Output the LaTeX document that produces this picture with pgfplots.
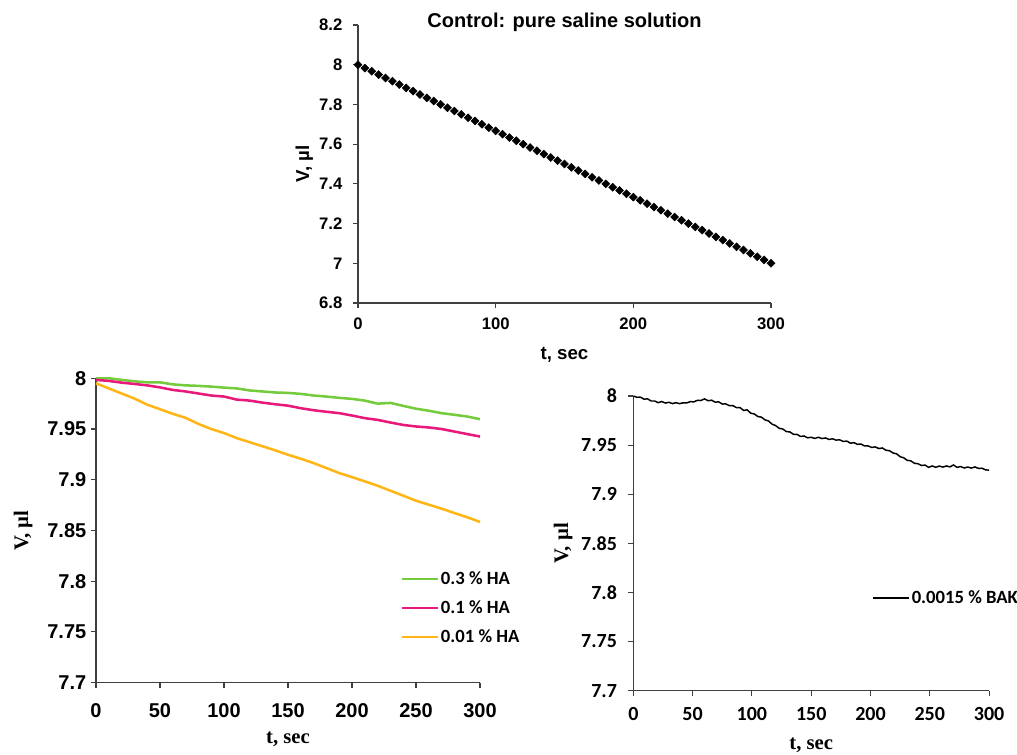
\documentclass[border=0pt]{standalone}
\usepackage{fontspec}
\setmainfont{Liberation Sans}
\newfontfamily\arialf{Liberation Sans}
\newfontfamily\calf{Carlito}
\newfontfamily\timesf{Liberation Serif}
\usepackage{pgfplots}
\pgfplotsset{compat=1.18}
\definecolor{hagreen}{HTML}{74CC3C}
\definecolor{hapink}{HTML}{E8197A}
\definecolor{haorange}{HTML}{FFB515}
\definecolor{axgray}{HTML}{404040}

\pgfplotsset{
  excel/.style={
    scale only axis, anchor=south west,
    axis x line*=bottom, axis y line*=left,
    axis line style={axgray,line width=0.8pt},
    tick style={axgray,line width=0.8pt},
    tick align=outside, major tick length=3.75pt,
    xmin=0, xmax=300, clip=false,
    /pgf/number format/assume math mode=true,
    legend cell align=left,
    legend style={draw=none,fill=none,inner sep=0pt,row sep=7.5pt,
      nodes={inner sep=1.5pt}},
    legend image code/.code={\draw[##1] (0pt,0pt) -- (27pt,0pt);},
  },
}

\begin{document}
\begin{tikzpicture}
\useasboundingbox (0pt,0pt) rectangle (762.75pt,-566.25pt);

% top: control
\begin{axis}[excel,
  at={(268.5pt,-227.25pt)}, width=309.75pt, height=208.5pt,
  ymin=6.8, ymax=8.2,
  ytick={6.8,7,7.2,7.4,7.6,7.8,8,8.2},
  xtick={0,100,200,300},
  ticklabel style={font=\arialf\bfseries\fontsize{12.5}{14}\selectfont},
  yticklabel style={xshift=-4.5pt},
  xticklabel style={yshift=-3.5pt},
  xlabel={t, sec}, ylabel={V, µl},
  label style={font=\arialf\bfseries\fontsize{14}{16}\selectfont},
  xlabel style={at={(axis description cs:0.5,-0.187)},anchor=center},
  ylabel style={at={(axis description cs:-0.13,0.5)},anchor=center},
  title={Control: pure saline solution},
  title style={at={(axis description cs:0.5,0.982)},anchor=center,
    font=\arialf\bfseries\fontsize{15}{17}\selectfont},
]
\addplot[only marks, mark=square*, mark size=2.1pt, black,
  mark options={rotate=45}] coordinates {
  (0,8.000)(5,7.983)(10,7.967)(15,7.950)(20,7.933)(25,7.917)(30,7.900)
  (35,7.883)(40,7.867)(45,7.850)(50,7.833)(55,7.817)(60,7.800)(65,7.783)
  (70,7.767)(75,7.750)(80,7.733)(85,7.717)(90,7.700)(95,7.683)(100,7.667)
  (105,7.650)(110,7.633)(115,7.617)(120,7.600)(125,7.583)(130,7.567)
  (135,7.550)(140,7.533)(145,7.517)(150,7.500)(155,7.483)(160,7.467)
  (165,7.450)(170,7.433)(175,7.417)(180,7.400)(185,7.383)(190,7.367)
  (195,7.350)(200,7.333)(205,7.317)(210,7.300)(215,7.283)(220,7.267)
  (225,7.250)(230,7.233)(235,7.217)(240,7.200)(245,7.183)(250,7.167)
  (255,7.150)(260,7.133)(265,7.117)(270,7.100)(275,7.083)(280,7.067)
  (285,7.050)(290,7.033)(295,7.017)(300,7.000)};
\end{axis}

% bottom left: HA
\begin{axis}[excel,
  at={(72pt,-512pt)}, width=288pt, height=228.3pt,
  ymin=7.7, ymax=8,
  ytick={7.7,7.75,7.8,7.85,7.9,7.95,8},
  xtick={0,50,100,150,200,250,300},
  ticklabel style={font=\arialf\bfseries\fontsize{15}{17}\selectfont},
  xticklabel style={yshift=-8pt},
  xlabel={t, sec}, ylabel={V, µl},
  label style={font=\timesf\bfseries\fontsize{15.5}{17}\selectfont},
  xlabel style={at={(axis description cs:0.5,-0.185)},anchor=center},
  ylabel style={at={(axis description cs:-0.19,0.5)},anchor=center},
  legend style={at={(axis description cs:0.792,0.245)},anchor=west,
    font=\calf\bfseries\fontsize{14}{16}\selectfont},
]
\addplot[hagreen, line width=1.9pt] coordinates {
  (0,8.0000)(10,8.0000)(20,7.9984)(30,7.9970)(40,7.9960)(50,7.9960)
  (60,7.9940)(70,7.9930)(80,7.9925)(90,7.9918)(100,7.9908)(110,7.9900)
  (120,7.9880)(130,7.9870)(140,7.9860)(150,7.9856)(160,7.9846)(170,7.9830)
  (180,7.9820)(190,7.9807)(200,7.9797)(210,7.9780)(220,7.9750)(230,7.9757)
  (240,7.9728)(250,7.9700)(260,7.9680)(270,7.9656)(280,7.9640)(290,7.9623)
  (300,7.9597)};
\addlegendentry{0.3 \% HA}
\addplot[hapink, line width=1.9pt] coordinates {
  (0,7.9984)(10,7.9974)(20,7.9957)(30,7.9944)(40,7.9930)(50,7.9910)
  (60,7.9885)(70,7.9870)(80,7.9850)(90,7.9830)(100,7.9820)(110,7.9790)
  (120,7.9780)(130,7.9760)(140,7.9744)(150,7.9730)(160,7.9705)(170,7.9685)
  (180,7.9670)(190,7.9656)(200,7.9633)(210,7.9607)(220,7.9590)(230,7.9564)
  (240,7.9540)(250,7.9525)(260,7.9515)(270,7.9500)(280,7.9475)(290,7.9450)
  (300,7.9426)};
\addlegendentry{0.1 \% HA}
\addplot[haorange, line width=1.9pt] coordinates {
  (0,7.9950)(10,7.9900)(20,7.9850)(30,7.9800)(40,7.9740)(50,7.9695)
  (60,7.9650)(70,7.9610)(80,7.9550)(90,7.9500)(100,7.9460)(110,7.9410)
  (120,7.9370)(130,7.9330)(140,7.9290)(150,7.9246)(160,7.9207)(170,7.9164)
  (180,7.9115)(190,7.9066)(200,7.9026)(210,7.8984)(220,7.8941)(230,7.8892)
  (240,7.8843)(250,7.8793)(260,7.8754)(270,7.8715)(280,7.8672)(290,7.8630)
  (300,7.8584)};
\addlegendentry{0.01 \% HA}
\end{axis}

% bottom right: BAK
\begin{axis}[excel,
  at={(475pt,-518pt)}, width=266.8pt, height=221pt,
  ymin=7.7, ymax=8,
  ytick={7.7,7.75,7.8,7.85,7.9,7.95,8},
  xtick={0,50,100,150,200,250,300},
  ticklabel style={font=\calf\bfseries\fontsize{15}{17}\selectfont},
  yticklabel style={xshift=-5pt},
  xticklabel style={yshift=-5pt},
  xlabel={t, sec}, ylabel={V, µl},
  label style={font=\timesf\bfseries\fontsize{15.5}{17}\selectfont},
  xlabel style={at={(axis description cs:0.5,-0.185)},anchor=center},
  ylabel style={at={(axis description cs:-0.197,0.5)},anchor=center},
  legend style={at={(axis description cs:0.671,0.315)},anchor=west,
    font=\calf\bfseries\fontsize{14}{16}\selectfont},
]
\addplot[black, line width=1.1pt] table {
t V
0 8.0000
3 7.9987
6 7.9988
9 7.9968
12 7.9971
15 7.9949
18 7.9949
21 7.9932
24 7.9944
27 7.9928
30 7.9936
33 7.9923
36 7.9932
39 7.9922
42 7.9931
45 7.9929
48 7.9943
51 7.9940
54 7.9956
57 7.9954
60 7.9971
63 7.9952
66 7.9957
69 7.9938
72 7.9940
75 7.9918
78 7.9920
81 7.9901
84 7.9902
87 7.9881
90 7.9882
93 7.9853
96 7.9859
99 7.9825
102 7.9817
105 7.9791
108 7.9785
111 7.9757
114 7.9746
117 7.9713
120 7.9699
123 7.9671
126 7.9664
129 7.9638
132 7.9634
135 7.9610
138 7.9610
141 7.9588
144 7.9593
147 7.9574
150 7.9580
153 7.9568
156 7.9580
159 7.9567
162 7.9573
165 7.9558
168 7.9564
171 7.9551
174 7.9554
177 7.9537
180 7.9541
183 7.9520
186 7.9525
189 7.9508
192 7.9511
195 7.9491
198 7.9492
201 7.9476
204 7.9482
207 7.9465
210 7.9471
213 7.9448
216 7.9443
219 7.9420
222 7.9411
225 7.9382
228 7.9371
231 7.9345
234 7.9340
237 7.9315
240 7.9311
243 7.9292
246 7.9297
249 7.9273
252 7.9288
255 7.9274
258 7.9287
261 7.9276
264 7.9288
267 7.9278
270 7.9298
273 7.9273
276 7.9282
279 7.9267
282 7.9277
285 7.9266
288 7.9278
291 7.9263
294 7.9265
297 7.9248
300 7.9245
};
\addlegendentry{0.0015 \% BAK}
\end{axis}
\end{tikzpicture}
\end{document}
